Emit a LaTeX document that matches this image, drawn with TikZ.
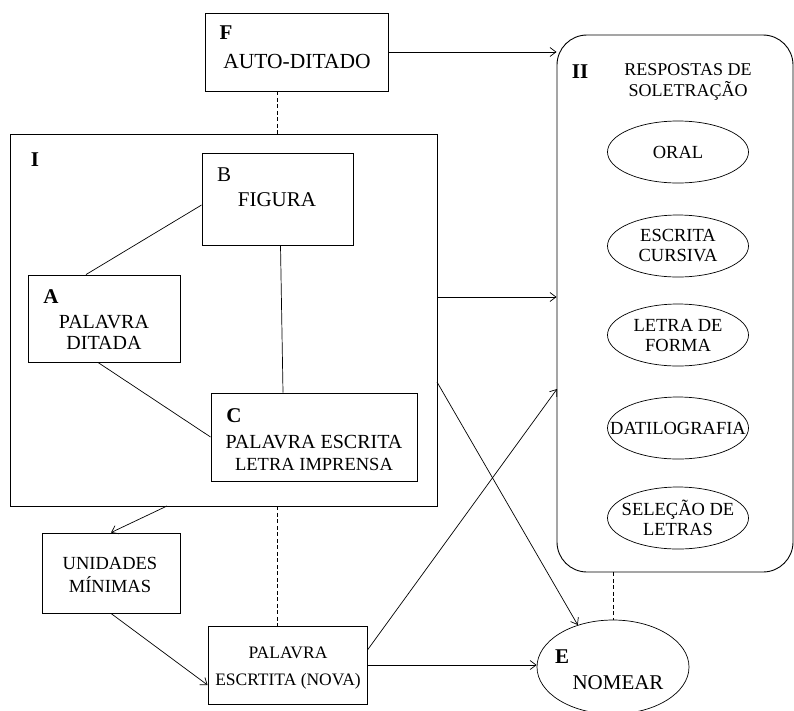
\documentclass[tikz,border=0pt]{standalone}
\usepackage{fontspec}
\setmainfont{Liberation Serif}
\usetikzlibrary{shapes.geometric,arrows.meta,positioning}

\begin{document}
\begin{tikzpicture}[x=1pt, y=-1pt,
  >={Straight Barb[length=6pt,width=9pt]},
  box/.style={draw, line width=0.9pt, inner sep=0pt},
  resp/.style={ellipse, draw, line width=0.7pt, minimum width=141pt, minimum height=62pt,
    inner xsep=-25pt, inner ysep=0pt, align=center, font=\fontsize{18.5}{20}\selectfont},
  lbl/.style={inner sep=0pt, font=\fontsize{21}{22}\selectfont\bfseries},
  txt/.style={inner sep=0pt, align=center, font=\fontsize{21}{22}\selectfont},
  link/.style={line width=0.7pt},
  dashlink/.style={line width=0.7pt, dash pattern=on 4pt off 2.5pt}]
  \useasboundingbox (0,0) rectangle (794,710);

  % Auto-ditado
  \node[box, minimum width=183pt, minimum height=78pt] (F) at (296.5,52) {};
  \node[lbl] (Flbl) at (226,33) {F};
  \node[txt, font=\fontsize{21.5}{22}\selectfont] (Ftxt) at (297,61) {AUTO-DITADO};

  % Bloco I
  \node[box, minimum width=427pt, minimum height=372pt] (I) at (223.5,320) {};
  \node[lbl] (Ilbl) at (35,160) {I};

  % B
  \node[box, minimum width=151pt, minimum height=92pt] (B) at (277.5,199) {};
  \node[txt] (Blbl) at (224,175) {B};
  \node[txt] (Btxt) at (277,200) {FIGURA};

  % A
  \node[box, minimum width=152pt, minimum height=87pt] (A) at (104,318.5) {};
  \node[lbl] (Albl) at (51,297) {A};
  \node[txt, font=\fontsize{20}{21.5}\selectfont] (Atxt) at (104,332.5) {PALAVRA\\DITADA};

  % C
  \node[box, minimum width=206pt, minimum height=88pt] (C) at (314,437) {};
  \node[lbl] (Clbl) at (234,416) {C};
  \node[txt, font=\fontsize{20}{21}\selectfont] (Ctxt) at (314,442) {PALAVRA ESCRITA};
  \node[txt, font=\fontsize{18.5}{21}\selectfont] (Ctxt2) at (314,464) {LETRA IMPRENSA};

  % Respostas de soletracao
  \node[box, rounded corners=30pt, minimum width=236pt, minimum height=537pt] (II) at (675,303.5) {};
  \node[lbl] (IIlbl) at (580,72) {II};
  \node[txt, font=\fontsize{18}{21}\selectfont] (IItxt) at (688,81.5) {RESPOSTAS DE\\SOLETRAÇÃO};
  \node[resp] (oral) at (678,152) {ORAL};
  \node[resp] (cursiva) at (678,246) {ESCRITA\\CURSIVA};
  \node[resp] (forma) at (678,335) {LETRA DE\\FORMA};
  \node[resp] (dati) at (678,428) {DATILOGRAFIA};
  \node[resp] (selecao) at (678,518) {SELEÇÃO DE\\LETRAS};

  % Unidades minimas
  \node[box, minimum width=138pt, minimum height=80pt] (U) at (111,573) {};
  \node[txt, font=\fontsize{18.5}{23}\selectfont] (Utxt) at (110,574.5) {UNIDADES\\MÍNIMAS};

  % Palavra nova
  \node[box, minimum width=159pt, minimum height=78pt] (N) at (287.5,665) {};
  \node[txt, font=\fontsize{17.5}{27}\selectfont] (Ntxt) at (288,668) {PALAVRA\\ESCRTITA (NOVA)};

  % Nomear
  \node[ellipse, draw, line width=0.7pt, minimum width=152pt, minimum height=94pt] (E) at (613,667) {};
  \node[lbl] (Elbl) at (562,657) {E};
  \node[txt] (Etxt) at (618,683) {NOMEAR};

  % Connections
  \coordinate (Iout) at (437,297);
  \coordinate (Iin) at (437,382);
  \coordinate (Idown) at (167,506);
  \coordinate (IIin) at (557,389);

  \draw[->, link] (F.east) -- (F.east -| II.west);
  \draw[dashlink] (B.center |- F.south) -- (B.center |- I.north);
  \draw[link] ([xshift=-18pt]A.north) -- ([yshift=-6pt]B.west);
  \draw[link] ([xshift=-6pt]A.south) -- (C.west);
  \draw[link] ([xshift=3pt]B.south) -- ([xshift=-31pt]C.north);
  \draw[->, link] (Iout) -- (Iout -| II.west);
  \draw[->, link] (Iin) -- (E.130);
  \draw[->, link] (Idown) -- (U.north);
  \draw[dashlink] (B.center |- I.south) -- (B.center |- N.north);
  \draw[->, link] (U.south) -- ([yshift=-20pt]N.west);
  \draw[->, link] ([yshift=15pt]N.east) -- (IIin);
  \draw[->, link] (N.east) -- (N.east -| E.west);
  \draw[dashlink] (E.north |- II.south) -- (E.north);
\end{tikzpicture}
\end{document}
